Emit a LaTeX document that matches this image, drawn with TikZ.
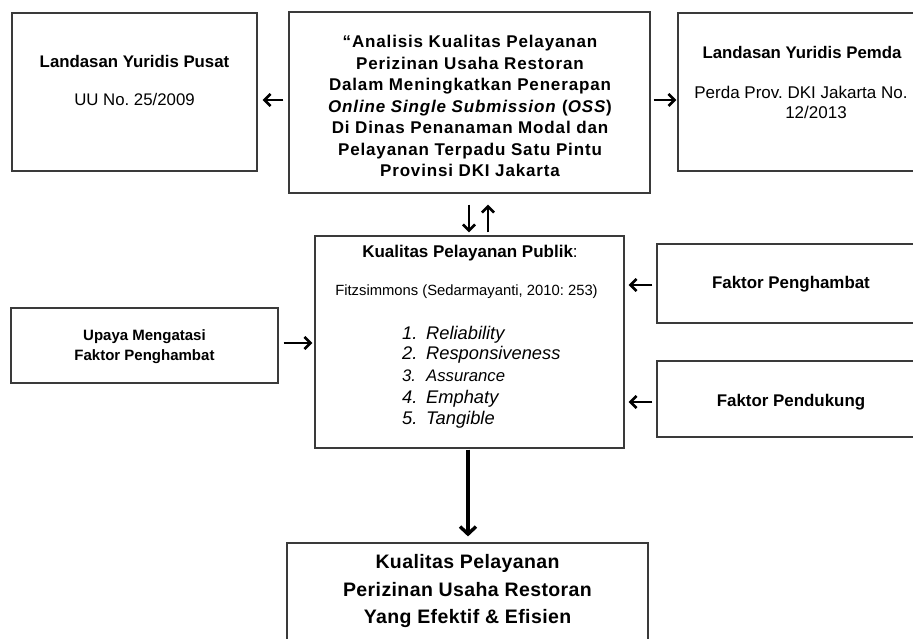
\documentclass[tikz,border=0pt]{standalone}
\usepackage{fontspec}
\setmainfont{Liberation Sans}
\newfontfamily\judulfont[LetterSpace=5]{Liberation Sans}
\newfontfamily\hasilfont[LetterSpace=2]{Liberation Sans}
\usetikzlibrary{arrows.meta}
\definecolor{boxline}{HTML}{3A3A3A}
\frenchspacing
\tikzset{
  box/.style={draw=boxline, line width=1.2pt, rectangle, inner sep=0pt, fill=white},
  txt/.style={inner sep=0pt, text=black},
  arr/.style={line width=2.7pt, black, -{Straight Barb[length=6pt,width=12pt,line width=2.7pt]}},
  bigarr/.style={line width=3.4pt, black, -{Straight Barb[length=7.5pt,width=16pt,line width=3.4pt]}},
}
\begin{document}
\begin{tikzpicture}[x=1pt,y=-1pt]
\useasboundingbox (0,0) rectangle (913,639);
\fill[white] (0,0) rectangle (913,639);
\clip (0,0) rectangle (913,639);

% boxes
\node[box, minimum width=245pt, minimum height=158pt] (pusat) at (134.5,92) {};
\node[box, minimum width=361pt, minimum height=181pt] (judul) at (469.5,102.5) {};
\node[box, minimum width=248pt, minimum height=158pt] (pemda) at (802,92) {};
\node[box, minimum width=309pt, minimum height=212pt] (teori) at (469.5,342) {};
\node[box, minimum width=267pt, minimum height=75pt] (upaya) at (144.5,345.5) {};
\node[box, minimum width=268pt, minimum height=79pt] (hambat) at (791,283.5) {};
\node[box, minimum width=268pt, minimum height=76pt] (dukung) at (791,399) {};
\node[box, minimum width=361pt, minimum height=157pt] (hasil) at (467.5,621.5) {};

% texts
\node[txt, anchor=base, font=\fontsize{16.8}{20}\selectfont\bfseries] (pusatT) at (134.5,68) {Landasan Yuridis Pusat};
\node[txt, anchor=base, font=\fontsize{16.8}{20}\selectfont] (pusatU) at (134.5,106) {UU No. 25/2009};

\node[txt, align=center, font=\judulfont\fontsize{17}{21.5}\selectfont\bfseries] (judulT) at (470,106) {%
  “Analisis Kualitas Pelayanan\\
  Perizinan Usaha Restoran\\
  Dalam Meningkatkan Penerapan\\
  \textit{Online Single Submission} (\textit{OSS})\\
  Di Dinas Penanaman Modal dan\\
  Pelayanan Terpadu Satu Pintu\\
  Provinsi DKI Jakarta};

\node[txt, anchor=base, font=\fontsize{16.8}{20}\selectfont\bfseries] (pemdaT) at (802,59) {Landasan Yuridis Pemda};
\node[txt, anchor=base, font=\fontsize{17}{20}\selectfont] (pemdaP) at (801,99) {Perda Prov. DKI Jakarta No.};
\node[txt, anchor=base, font=\fontsize{17}{20}\selectfont] (pemdaN) at (816,119) {12/2013};

\node[txt, anchor=base, font=\fontsize{17}{20}\selectfont] (teoriT) at (470,258) {\textbf{Kualitas Pelayanan Publik}:};
\node[txt, anchor=base, font=\fontsize{14.8}{18}\selectfont] (teoriF) at (466.5,295) {Fitzsimmons (Sedarmayanti, 2010: 253)};
\node[txt, anchor=base west, font=\fontsize{18.3}{20}\selectfont\itshape] (i1) at (402,339.5) {\makebox[24pt][l]{1.}Reliability};
\node[txt, anchor=base west, font=\fontsize{18.3}{20}\selectfont\itshape] (i2) at (402,359.5) {\makebox[24pt][l]{2.}Responsiveness};
\node[txt, anchor=base west, font=\fontsize{16.7}{20}\selectfont\itshape] (i3) at (402,381) {\makebox[24pt][l]{3.}Assurance};
\node[txt, anchor=base west, font=\fontsize{18.3}{20}\selectfont\itshape] (i4) at (402,403.5) {\makebox[24pt][l]{4.}Emphaty};
\node[txt, anchor=base west, font=\fontsize{18.3}{20}\selectfont\itshape] (i5) at (402,424.5) {\makebox[24pt][l]{5.}Tangible};

\node[txt, align=center, font=\fontsize{15}{20}\selectfont\bfseries] (upayaT) at (144.5,346.5) {Upaya Mengatasi\\Faktor Penghambat};
\node[txt, anchor=base, font=\fontsize{16.9}{20}\selectfont\bfseries] (hambatT) at (791,288) {Faktor Penghambat};
\node[txt, anchor=base, font=\fontsize{16.9}{20}\selectfont\bfseries] (dukungT) at (791,406) {Faktor Pendukung};

\node[txt, align=center, font=\hasilfont\fontsize{19.5}{27.5}\selectfont\bfseries] (hasilT) at (467.5,591) {%
  Kualitas Pelayanan\\
  Perizinan Usaha Restoran\\
  Yang Efektif \& Efisien};

% connectors
\draw[arr, shorten <=5pt, shorten >=5pt] ([yshift=2.5pt]judul.west) -- ([yshift=2.5pt]judul.west -| pusat.east);
\draw[arr, shorten <=3pt, shorten >=1pt] ([yshift=2.5pt]judul.east) -- ([yshift=2.5pt]judul.east -| pemda.west);
\draw[arr, shorten <=11pt, shorten >=3pt] ([xshift=-0.5pt]judul.south) -- ([xshift=-0.5pt]teori.north);
\draw[arr, shorten <=3pt, shorten >=11pt] ([xshift=18.5pt]teori.north) -- ([xshift=18.5pt]judul.south);
\draw[arr, shorten <=5pt, shorten >=2pt] ([yshift=2.5pt]upaya.east) -- ([yshift=2.5pt]upaya.east -| teori.west);
\draw[arr, shorten <=4pt, shorten >=4pt] ([yshift=-1.5pt]hambat.west) -- ([yshift=-1.5pt]hambat.west -| teori.east);
\draw[arr, shorten <=4pt, shorten >=4pt] ([yshift=-3pt]dukung.west) -- ([yshift=-3pt]dukung.west -| teori.east);
\draw[bigarr, shorten <=1pt, shorten >=6pt] ([xshift=-1.5pt]teori.south) -- ([xshift=-1.5pt]teori.south |- hasil.north);
\end{tikzpicture}
\end{document}
